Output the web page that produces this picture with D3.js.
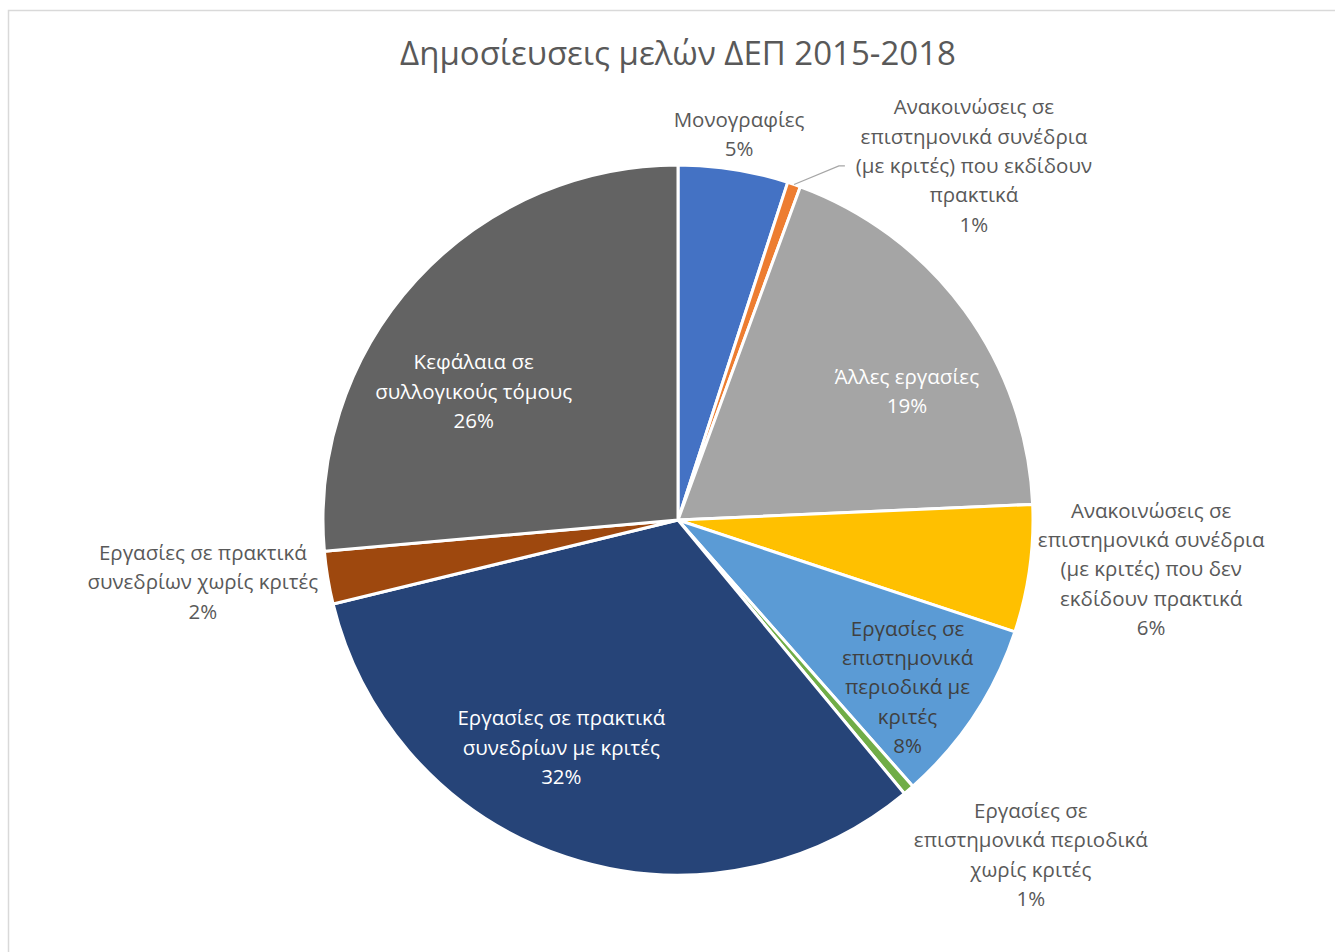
<!DOCTYPE html>
<html>
<head>
<meta charset="utf-8">
<script src="https://cdn.jsdelivr.net/npm/d3@7"></script>
<style>
  body { margin: 0; background: #fff; }
  text { font-family: "Open Sans", "Noto Sans", sans-serif; }
</style>
</head>
<body>
<div id="chart"></div>
<script>
// data
const categories = [
  "Μονογραφίες",
  "Ανακοινώσεις σε επιστημονικά συνέδρια (με κριτές) που εκδίδουν πρακτικά",
  "Άλλες εργασίες",
  "Ανακοινώσεις σε επιστημονικά συνέδρια (με κριτές) που δεν εκδίδουν πρακτικά",
  "Εργασίες σε επιστημονικά περιοδικά με κριτές",
  "Εργασίες σε επιστημονικά περιοδικά χωρίς κριτές",
  "Εργασίες σε πρακτικά συνεδρίων με κριτές",
  "Εργασίες σε πρακτικά συνεδρίων χωρίς κριτές",
  "Κεφάλαια σε συλλογικούς τόμους"
];
// shares in %
const shares = [5.0, 0.6, 18.7, 5.8, 8.4, 0.5, 32.2, 2.4, 26.4];
// how each label is wrapped (as in the original)
const labelLines = [
  ["Μονογραφίες"],
  ["Ανακοινώσεις σε", "επιστημονικά συνέδρια", "(με κριτές) που εκδίδουν", "πρακτικά"],
  ["Άλλες εργασίες"],
  ["Ανακοινώσεις σε", "επιστημονικά συνέδρια", "(με κριτές) που δεν", "εκδίδουν πρακτικά"],
  ["Εργασίες σε", "επιστημονικά", "περιοδικά με", "κριτές"],
  ["Εργασίες σε", "επιστημονικά περιοδικά", "χωρίς κριτές"],
  ["Εργασίες σε πρακτικά", "συνεδρίων με κριτές"],
  ["Εργασίες σε πρακτικά", "συνεδρίων χωρίς κριτές"],
  ["Κεφάλαια σε", "συλλογικούς τόμους"]
];
const colors = ["#4472C4", "#ED7D31", "#A5A5A5", "#FFC000", "#5B9BD5",
                "#70AD47", "#264478", "#9E480E", "#636363"];

// label placement: radius factor and angle nudge (deg), text colour
const labelPos = [
  {r: 1.10, da: 0, c: "#595959"},
  {r: 1.30, da: 20.8, c: "#595959", leader: true},
  {r: 0.74, da: 6.8, c: "#fff"},
  {r: 1.34, da: -2.0, c: "#595959"},
  {r: 0.80, da: 2.6, c: "#404040"},
  {r: 1.37, da: -6, c: "#595959"},
  {r: 0.72, da: 8.8, c: "#fff"},
  {r: 1.35, da: 1.9, c: "#595959"},
  {r: 0.68, da: -10.3, c: "#fff"}
];

// setup
const W = 1335, H = 952;
const cx = 678, cy = 520, R = 355;
const fontSize = 20.5, lineH = 29.3;

const svg = d3.select("#chart").append("svg")
  .attr("width", W)
  .attr("height", H);

svg.append("rect")
  .attr("x", 8.5).attr("y", 10.5)
  .attr("width", W + 10).attr("height", H + 10)
  .attr("fill", "#fff")
  .attr("stroke", "#d9d9d9")
  .attr("stroke-width", 1.5);

svg.append("text")
  .attr("x", cx)
  .attr("y", 65)
  .attr("text-anchor", "middle")
  .attr("font-size", 33)
  .attr("fill", "#595959")
  .text("Δημοσίευσεις μελών ΔΕΠ 2015-2018");

const total = d3.sum(shares);
const data = categories.map((c, i) => ({cat: c, value: shares[i], i: i}));

const pie = d3.pie().value(d => d.value).sort(null);
const arcs = pie(data);
const arc = d3.arc().innerRadius(0).outerRadius(R);

const g = svg.append("g").attr("transform", "translate(" + cx + "," + cy + ")");

g.selectAll("path.slice")
  .data(arcs)
  .enter().append("path")
  .attr("class", "slice")
  .attr("d", arc)
  .attr("fill", d => colors[d.data.i])
  .attr("stroke", "#fff")
  .attr("stroke-width", 3)
  .attr("stroke-linejoin", "round");

function labelPoint(d) {
  const p = labelPos[d.data.i];
  const a = (d.startAngle + d.endAngle) / 2 + p.da * Math.PI / 180;
  const r = R * p.r;
  return [Math.sin(a) * r, -Math.cos(a) * r];
}

// leader lines
arcs.filter(d => labelPos[d.data.i].leader).forEach(d => {
  const a = (d.startAngle + d.endAngle) / 2;
  const p0 = [Math.sin(a) * R, -Math.cos(a) * R];
  const lp = labelPoint(d);
  const p1 = [lp[0] - 135, lp[1]];
  g.append("polyline")
    .attr("points", [p0, p1, [p1[0] + 6, p1[1]]].map(p => p.join(",")).join(" "))
    .attr("fill", "none")
    .attr("stroke", "#a6a6a6")
    .attr("stroke-width", 1.3);
});

const labels = g.selectAll("text.lbl")
  .data(arcs)
  .enter().append("text")
  .attr("class", "lbl")
  .attr("text-anchor", "middle")
  .attr("font-size", fontSize)
  .attr("fill", d => labelPos[d.data.i].c)
  .attr("transform", d => "translate(" + labelPoint(d) + ")");

labels.each(function(d) {
  const lines = labelLines[d.data.i].concat([Math.round(d.data.value / total * 100) + "%"]);
  const n = lines.length;
  d3.select(this).selectAll("tspan")
    .data(lines)
    .enter().append("tspan")
    .attr("x", 0)
    .attr("y", (l, k) => (k - (n - 1) / 2) * lineH)
    .attr("dy", "0.35em")
    .text(l => l);
});
</script>
</body>
</html>
